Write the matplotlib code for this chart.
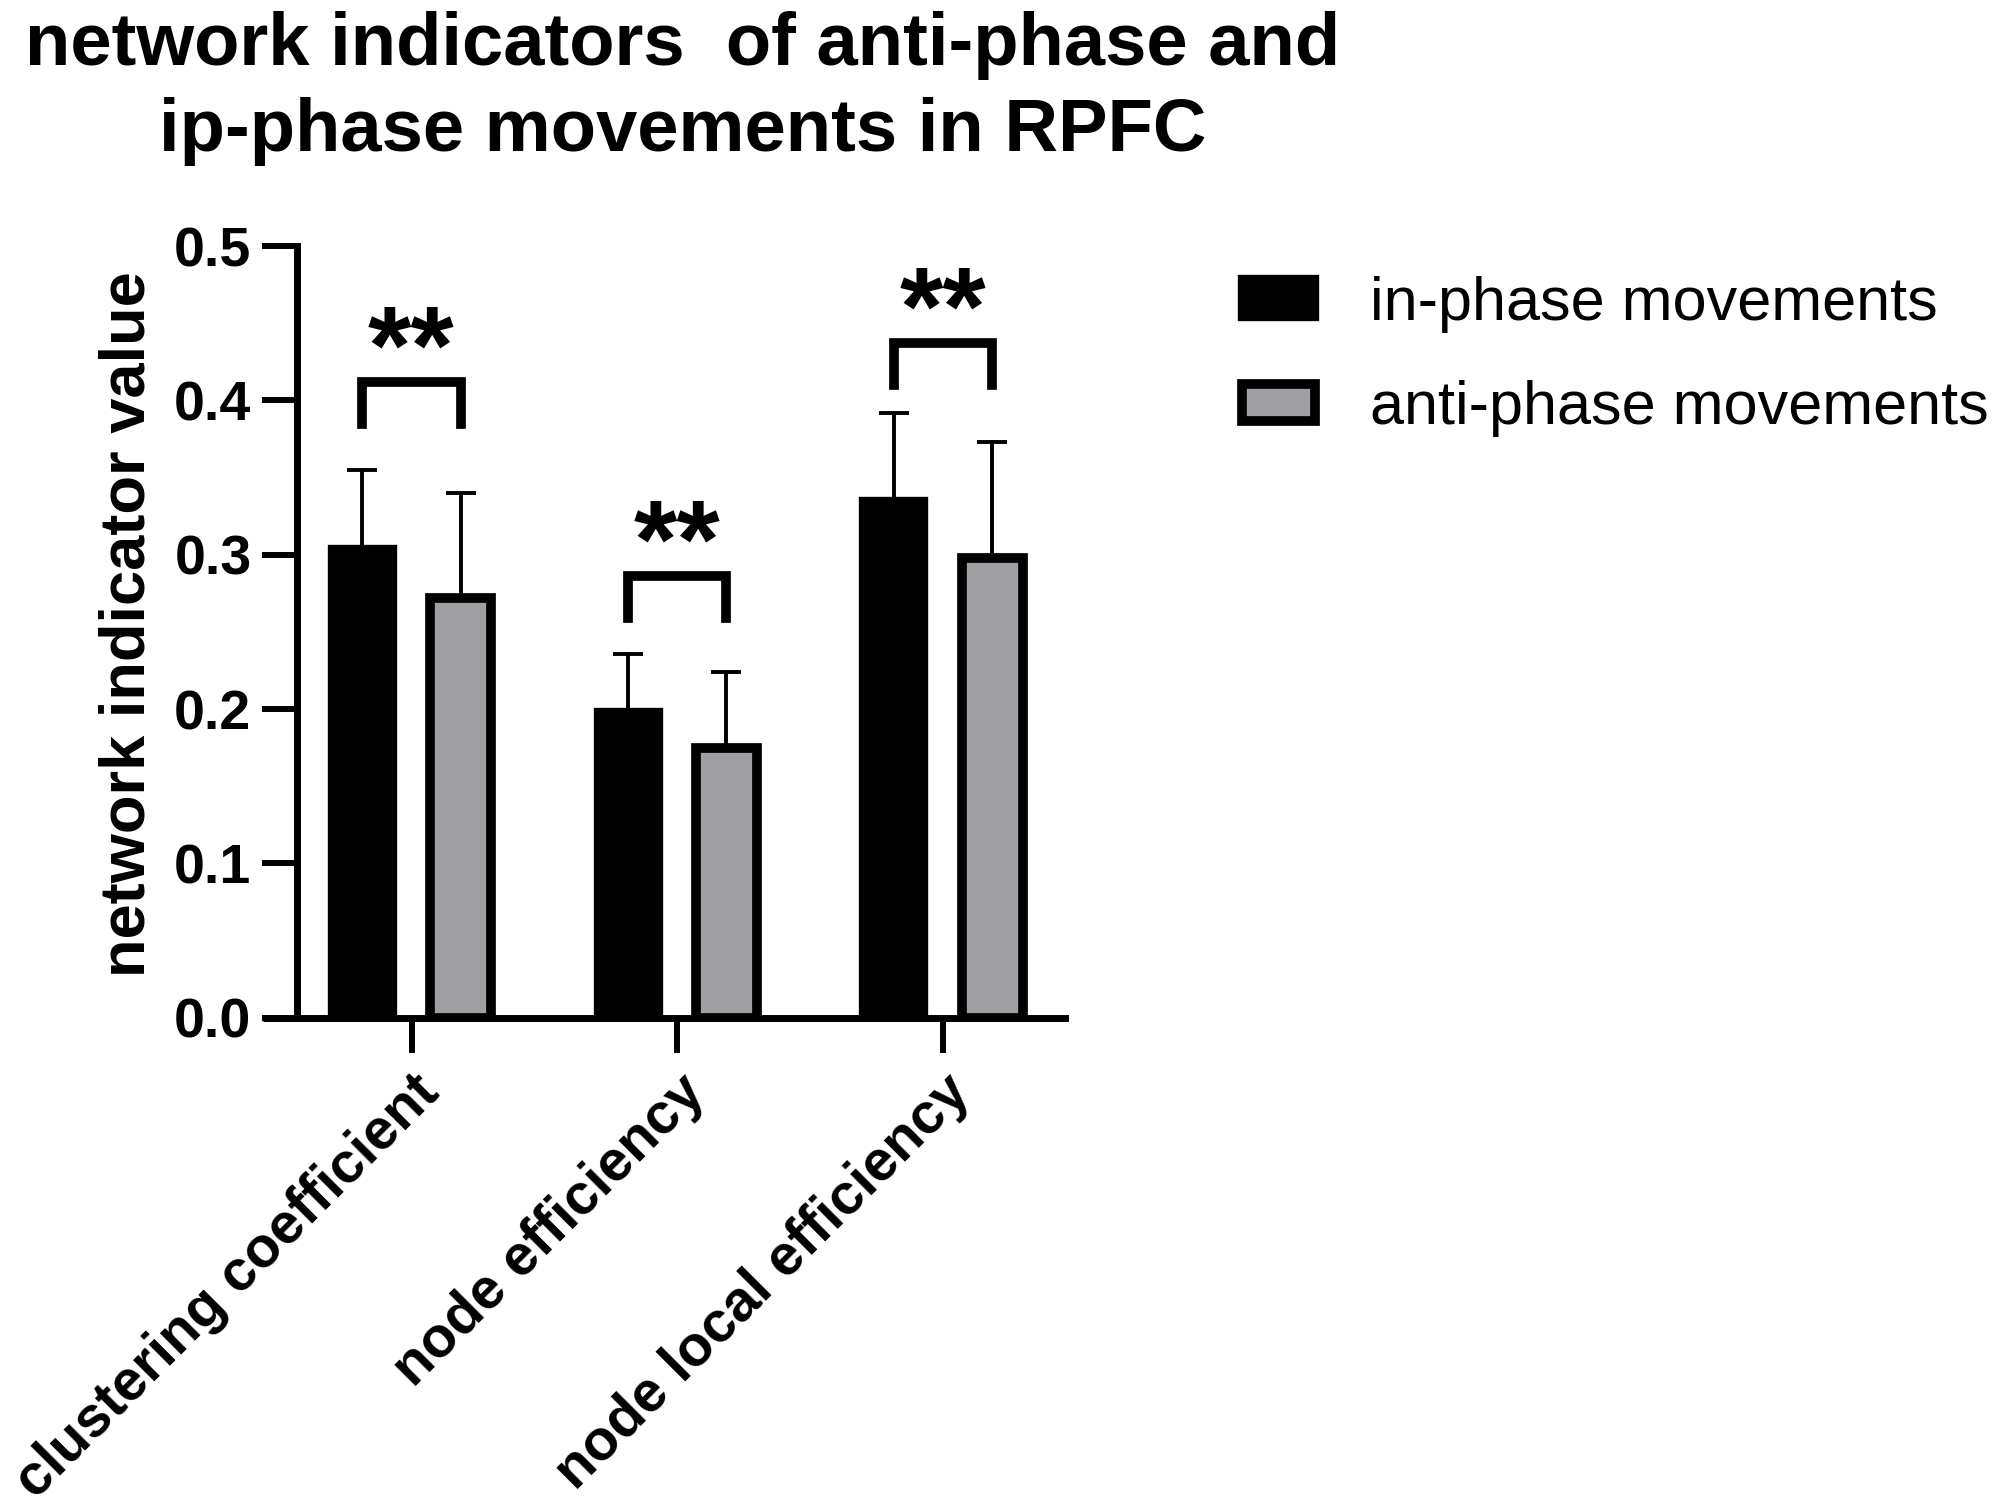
import matplotlib.pyplot as plt
import numpy as np

plt.rcParams["font.family"] = ["Liberation Sans", "DejaVu Sans"]

categories = ["clustering coefficient", "node efficiency", "node local efficiency"]
series_names = ["in-phase movements", "anti-phase movements"]
in_phase = [0.304, 0.198, 0.335]
in_phase_sd = [0.051, 0.038, 0.057]
anti_phase = [0.272, 0.175, 0.298]
anti_phase_sd = [0.068, 0.049, 0.075]
sig_labels = ["**", "**", "**"]
bracket_tops = [0.412, 0.286, 0.437]

fig = plt.figure(figsize=(19.95, 15.10), dpi=100)
ax = fig.add_axes([0.149, 0.326, 0.385, 0.511])

x = np.arange(len(categories))
offset = 0.185
width = 0.23

ax.bar(x - offset, in_phase, width, color="black", edgecolor="black",
       linewidth=6, label=series_names[0], zorder=2)
ax.bar(x + offset, anti_phase, width, color="#a0a0a4", edgecolor="black",
       linewidth=7, label=series_names[1], zorder=2)

ax.errorbar(x - offset, in_phase, yerr=[np.zeros(3), in_phase_sd], fmt="none",
            ecolor="black", elinewidth=2.8, capsize=11, capthick=2.8, zorder=1)
ax.errorbar(x + offset, anti_phase, yerr=[np.zeros(3), anti_phase_sd], fmt="none",
            ecolor="black", elinewidth=2.8, capsize=11, capthick=2.8, zorder=1)

# significance brackets
for i, top in enumerate(bracket_tops):
    xl, xr = x[i] - offset, x[i] + offset
    ax.plot([xl, xl, xr, xr], [top - 0.027, top, top, top - 0.027],
            color="black", linewidth=7, solid_joinstyle="miter", zorder=3)
    ax.text(x[i], top - 0.001, sig_labels[i], ha="center", va="baseline",
            fontsize=80, fontweight="bold")

ax.set_xlim(-0.43, 2.46)
ax.set_ylim(0, 0.5)
ax.set_yticks([0.0, 0.1, 0.2, 0.3, 0.4, 0.5])
ax.set_yticklabels(["0.0", "0.1", "0.2", "0.3", "0.4", "0.5"])
ax.set_xticks(x)
ax.set_xticklabels(categories, rotation=45, ha="right", rotation_mode="anchor",
                   fontsize=41, fontweight="bold")
for lab in ax.get_yticklabels():
    lab.set_fontsize(40)
    lab.set_fontweight("bold")
ax.tick_params(axis="both", length=25, width=4.3, pad=8)
ax.tick_params(axis="x", pad=9)

for side in ["top", "right"]:
    ax.spines[side].set_visible(False)
for side in ["left", "bottom"]:
    ax.spines[side].set_linewidth(5)
# x axis line runs slightly past the y axis like the original
ax.plot([-0.045, 0], [0, 0], transform=ax.transAxes, color="black",
        linewidth=5, clip_on=False, solid_capstyle="butt")

ax.set_ylabel("network indicator value", fontsize=45.5, fontweight="bold", labelpad=12)
ax.yaxis.label.set_y(0.51)

fig.suptitle("network indicators  of anti-phase and\nip-phase movements in RPFC",
             x=0.342, y=0.993, fontsize=53.5, fontweight="bold", linespacing=1.32)

ax.legend(loc="upper left", bbox_to_anchor=(0.6226, 0.8175), bbox_transform=fig.transFigure,
          frameon=False, fontsize=44, handlelength=1.19, handleheight=0.56,
          labelspacing=0.78, handletextpad=0.9, borderpad=0, borderaxespad=0)

fig.savefig("out.png", dpi=100)
